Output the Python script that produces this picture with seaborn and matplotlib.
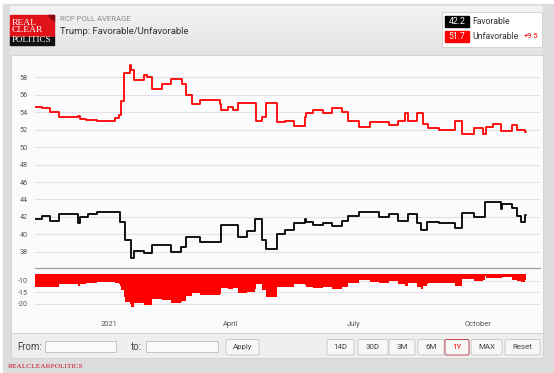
import matplotlib
matplotlib.use("Agg")
import matplotlib.pyplot as plt
from matplotlib.colors import LinearSegmentedColormap
from matplotlib.patches import Rectangle, FancyBboxPatch, Polygon
import numpy as np
import pandas as pd
import seaborn as sns

W, H = 554, 373

# RCP average, Favorable (step changes: start date -> value)
FAV_DATES = [
    "2020-11-07", "2020-11-12", "2020-11-18", "2020-11-25", "2020-12-09", "2020-12-10",
    "2020-12-16", "2020-12-23", "2021-01-09", "2021-01-13", "2021-01-17", "2021-01-19",
    "2021-01-27", "2021-02-02", "2021-02-16", "2021-02-23", "2021-02-27", "2021-03-03",
    "2021-03-09", "2021-03-25", "2021-04-06", "2021-04-13", "2021-04-19", "2021-04-24",
    "2021-04-27", "2021-05-05", "2021-05-11", "2021-05-18", "2021-05-26", "2021-05-27",
    "2021-06-01", "2021-06-08", "2021-06-15", "2021-06-22", "2021-06-27", "2021-07-05",
    "2021-07-20", "2021-07-27", "2021-08-03", "2021-08-10", "2021-08-17", "2021-08-20",
    "2021-08-24", "2021-09-02", "2021-09-14", "2021-09-19", "2021-09-28", "2021-10-06",
    "2021-10-18", "2021-10-19", "2021-10-26", "2021-10-30", "2021-11-02", "2021-11-05",
]
FAV_VALUES = [
    41.8, 42.05, 41.55, 42.3, 41.25, 42.0,
    42.3, 42.55, 41.45, 39.3, 37.25, 38.05,
    37.8, 38.75, 38.0, 38.5, 39.65, 39.7,
    39.15, 41.05, 39.7, 40.35, 41.7, 39.35,
    38.3, 40.05, 40.5, 41.3, 41.8, 41.45,
    41.05, 41.3, 41.0, 41.55, 42.1, 42.55,
    42.0, 42.3, 41.5, 42.3, 41.3, 40.55,
    41.4, 41.3, 40.7, 42.5, 42.0, 43.75,
    42.85, 43.5, 43.0, 42.1, 41.4, 42.2,
]

# RCP average, Unfavorable
UNFAV_DATES = [
    "2020-11-07", "2020-11-12", "2020-11-18", "2020-11-25", "2020-12-09", "2020-12-10",
    "2020-12-15", "2020-12-23", "2021-01-05", "2021-01-08", "2021-01-10", "2021-01-12",
    "2021-01-16", "2021-01-17", "2021-01-19", "2021-01-27", "2021-01-29", "2021-02-02",
    "2021-02-09", "2021-02-16", "2021-02-24", "2021-02-27", "2021-03-03", "2021-03-09",
    "2021-03-24", "2021-03-25", "2021-03-30", "2021-04-03", "2021-04-06", "2021-04-20",
    "2021-04-24", "2021-04-27", "2021-05-05", "2021-05-11", "2021-05-18", "2021-05-26",
    "2021-05-27", "2021-06-01", "2021-06-08", "2021-06-15", "2021-06-22", "2021-06-27",
    "2021-07-05", "2021-07-13", "2021-07-27", "2021-08-03", "2021-08-08", "2021-08-10",
    "2021-08-17", "2021-08-21", "2021-08-25", "2021-09-02", "2021-09-14", "2021-09-19",
    "2021-09-28", "2021-10-05", "2021-10-07", "2021-10-12", "2021-10-18", "2021-10-26",
    "2021-10-30", "2021-11-05",
]
UNFAV_VALUES = [
    54.6, 54.5, 54.0, 53.5, 53.6, 53.2,
    53.1, 53.0, 53.3, 53.7, 55.3, 58.5,
    59.4, 58.8, 57.7, 58.3, 58.1, 56.7,
    57.2, 57.8, 57.3, 56.0, 55.0, 55.4,
    55.0, 54.3, 54.6, 54.25, 55.1, 53.0,
    53.5, 55.1, 52.9, 53.0, 52.45, 53.5,
    53.9, 54.3, 53.9, 54.45, 54.05, 53.0,
    52.3, 52.85, 52.5, 53.0, 53.9, 53.0,
    53.9, 52.7, 52.15, 52.0, 53.0, 51.5,
    52.25, 51.5, 52.3, 52.7, 51.8, 52.5,
    51.95, 51.7,
]
END_DATE = "2021-11-06"

X_TICK_DATES = ["2021-01-01", "2021-04-01", "2021-07-01", "2021-10-01"]
X_TICK_LABELS = ["2021", "April", "July", "October"]
UPPER_TICKS = [38, 40, 42, 44, 46, 48, 50, 52, 54, 56, 58]
LOWER_TICKS = [-25, -20, -15, -10]
LOWER_LABELS = ["", "-20", "-15", "-10"]

LEGEND_FAV = "42.2"
LEGEND_UNFAV = "51.7"
LEGEND_SPREAD = "+9.5"
RANGE_BUTTONS = ["14D", "30D", "3M", "6M", "1Y", "MAX", "Reset"]
ACTIVE_BUTTON = "1Y"

RED = "#ff0000"
GRID = "#e2e2e6"


def step_series(dates, values):
    s = pd.Series(values, index=pd.to_datetime(dates), dtype=float)
    s.loc[pd.Timestamp(END_DATE)] = values[-1]
    return s


def px_axes(fig, left, top, right, bottom):
    return fig.add_axes([left / W, 1 - bottom / H, (right - left) / W, (bottom - top) / H])


def draw_chrome(bg):
    bg.add_patch(Rectangle((3, 4), W - 3, H - 4, color="#dddddd", zorder=0))
    grad = np.linspace(0, 1, 60).reshape(-1, 1)
    cmap = LinearSegmentedColormap.from_list("hdr", ["#f4f4f4", "#e3e3e3"])
    bg.imshow(grad, cmap=cmap, extent=[10, 543, 55, 6], aspect="auto", zorder=1)
    bg.add_patch(Rectangle((11, 55), 532, 278, facecolor="#fbfbfd",
                           edgecolor="#cfcfcf", lw=0.6, zorder=1))
    bg.add_patch(Rectangle((11, 333), 532, 25, facecolor="#efefef",
                           edgecolor="#cfcfcf", lw=0.6, zorder=1))

    # logo
    bg.add_patch(Rectangle((10, 15), 44, 22, color="#e2121b", zorder=2))
    bg.add_patch(Polygon([[48, 15], [54, 15], [54, 21]], closed=True, color="#8a0a10", zorder=3))
    bg.add_patch(Rectangle((10, 37), 44, 7.5, color="#111111", zorder=2))
    serif = ["Liberation Serif", "DejaVu Serif"]
    bg.text(11.5, 23, "REAL", color="white", fontsize=6.8, family=serif, va="center", zorder=4)
    bg.text(11.5, 30.5, "CLEAR", color="white", fontsize=6.8, family=serif, va="center", zorder=4)
    bg.text(11.5, 40.5, "POLITICS", color="white", fontsize=6.5, family=serif, va="center", zorder=4)

    bg.text(60, 19, "RCP POLL AVERAGE", color="#8a8a8a", fontsize=5.6, va="center", zorder=4)
    bg.text(60, 31, "Trump: Favorable/Unfavorable", color="#333333", fontsize=6.8,
            va="center", zorder=4)

    # legend box
    bg.add_patch(Rectangle((442, 12), 100, 35, facecolor="white", edgecolor="#cccccc",
                           lw=0.6, zorder=2))
    bg.add_patch(Rectangle((445, 16), 24, 11, color="black", zorder=3))
    bg.add_patch(Rectangle((445, 30.5), 24, 11.5, color=RED, zorder=3))
    bg.text(457, 21.8, LEGEND_FAV, color="white", fontsize=6.2, ha="center", va="center", zorder=4)
    bg.text(457, 36.4, LEGEND_UNFAV, color="white", fontsize=6.2, ha="center", va="center", zorder=4)
    bg.text(472, 21.8, "Favorable", color="#333333", fontsize=6.2, va="center", zorder=4)
    bg.text(472, 36.4, "Unfavorable", color="#333333", fontsize=6.2, va="center", zorder=4)
    bg.text(524, 36.4, LEGEND_SPREAD, color=RED, fontsize=5.4, va="center", zorder=4)

    # range selector bar
    bg.text(17, 346.5, "From:", color="#444444", fontsize=7, va="center", zorder=4)
    bg.add_patch(Rectangle((45, 341), 71, 11, facecolor="#fafafa", edgecolor="#bbbbbb",
                           lw=0.6, zorder=3))
    bg.text(131, 346.5, "to:", color="#444444", fontsize=7, va="center", zorder=4)
    bg.add_patch(Rectangle((146, 341), 72, 11, facecolor="#fafafa", edgecolor="#bbbbbb",
                           lw=0.6, zorder=3))

    buttons = [("Apply", 226, 259)] + list(zip(
        RANGE_BUTTONS,
        [327, 358, 389, 418, 445, 471, 505],
        [354, 388, 415, 444, 469, 502, 540],
    ))
    for label, x0, x1 in buttons:
        active = label == ACTIVE_BUTTON
        bg.add_patch(FancyBboxPatch((x0, 339.5), x1 - x0, 15.5,
                                    boxstyle="round,pad=0,rounding_size=1.5",
                                    facecolor="#f7f7f7",
                                    edgecolor="#b0303a" if active else "#c4c4c4",
                                    lw=0.6, zorder=3))
        bg.text((x0 + x1) / 2, 347.3, label, color=RED if active else "#444444",
                fontsize=5.7, ha="center", va="center", zorder=4)

    bg.text(8, 367, "REALCLEARPOLITICS", color="#c8102e", fontsize=5.3,
            family=serif, va="center", zorder=4)

    bg.set_xlim(0, W)
    bg.set_ylim(H, 0)
    bg.axis("off")


def main() -> None:
    sns.set_theme(style="white")
    plt.rcParams["font.family"] = ["Roboto", "DejaVu Sans"]
    plt.rcParams["axes.unicode_minus"] = False

    fav = step_series(FAV_DATES, FAV_VALUES)
    unfav = step_series(UNFAV_DATES, UNFAV_VALUES)
    idx = fav.index.union(unfav.index)
    spread = fav.reindex(idx).ffill() - unfav.reindex(idx).ffill()

    fig = plt.figure(figsize=(W / 100, H / 100), dpi=100, facecolor="white")
    bg = fig.add_axes([0, 0, 1, 1], zorder=0)
    draw_chrome(bg)

    x_left = pd.Timestamp("2020-11-07")
    x_right = pd.Timestamp("2021-11-16")
    x_ticks = pd.to_datetime(X_TICK_DATES)

    top = px_axes(fig, 35, 60, 540, 268.3)
    top.set_zorder(2)
    top.patch.set_alpha(0)
    sns.lineplot(x=unfav.index, y=unfav.values, ax=top, color=RED, lw=1.3,
                 drawstyle="steps-post", estimator=None)
    sns.lineplot(x=fav.index, y=fav.values, ax=top, color="black", lw=1.3,
                 drawstyle="steps-post", estimator=None)
    top.set_ylim(36.1, 60)
    top.set_yticks(UPPER_TICKS)
    top.set_xlim(x_left, x_right)
    top.set_xticks(x_ticks)
    top.tick_params(axis="x", length=0, labelbottom=False)
    top.tick_params(axis="y", length=0, pad=5, labelsize=5.2, labelcolor="#555555")
    top.grid(axis="y", color=GRID, lw=0.8)
    top.grid(axis="x", visible=False)
    for side in ["top", "left", "right"]:
        top.spines[side].set_visible(False)
    top.spines["bottom"].set_color("#a0a0a0")
    top.spines["bottom"].set_linewidth(0.9)
    top.set_xlabel("")
    top.set_ylabel("")

    low = px_axes(fig, 35, 274, 540, 315.4)
    low.set_zorder(2)
    low.patch.set_alpha(0)
    low.fill_between(spread.index, spread.values, 0, step="post", color=RED, lw=0, zorder=3)
    low.set_ylim(-25, -7)
    low.set_yticks(LOWER_TICKS)
    low.set_yticklabels(LOWER_LABELS)
    low.set_xlim(x_left, x_right)
    low.set_xticks(x_ticks)
    low.set_xticklabels(X_TICK_LABELS)
    low.tick_params(axis="x", length=0, pad=4, labelsize=5.4, labelcolor="#555555")
    low.tick_params(axis="y", length=0, pad=5, labelsize=5.2, labelcolor="#555555")
    low.grid(axis="y", color=GRID, lw=0.8)
    low.grid(axis="x", visible=False)
    for side in low.spines:
        low.spines[side].set_visible(False)

    fig.savefig("out.png", dpi=100, facecolor=fig.get_facecolor())


if __name__ == "__main__":
    main()
